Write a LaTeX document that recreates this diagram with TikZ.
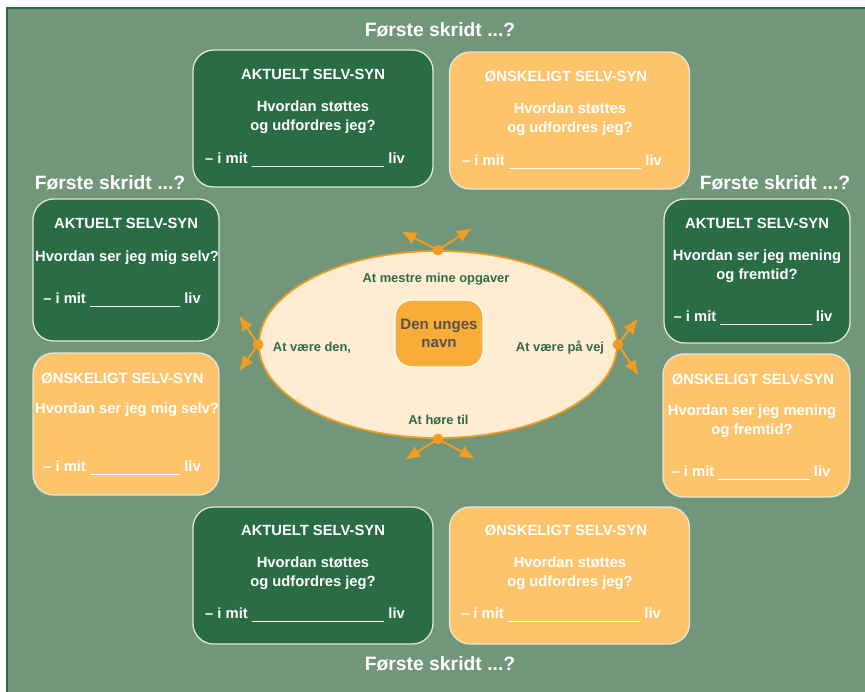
\documentclass[tikz,border=0pt]{standalone}
\usepackage{fontspec}
\setmainfont{Liberation Sans}
\usetikzlibrary{arrows.meta,shapes.geometric}
\definecolor{bggreen}{HTML}{71967A}
\definecolor{framegreen}{HTML}{2A6B45}
\definecolor{darkbox}{HTML}{296C46}
\definecolor{orangebox}{HTML}{FEC46C}
\definecolor{boxline}{HTML}{E4E6DA}
\definecolor{ringfill}{HTML}{FFEDD3}
\definecolor{ringline}{HTML}{F39C1F}
\definecolor{kernefill}{HTML}{F8AD3B}
\definecolor{labelgreen}{HTML}{2F6B44}
\definecolor{kernetext}{HTML}{58534E}

\begin{document}
\begin{tikzpicture}[x=0.03cm,y=-0.03cm,
  aktuel/.style={draw=boxline,line width=1.1pt,fill=darkbox,rounded corners=0.62cm,inner sep=0pt},
  oensket/.style={draw=boxline,line width=1.1pt,fill=orangebox,rounded corners=0.62cm,inner sep=0pt},
  widebox/.style={minimum width=7.2cm,minimum height=4.11cm},
  sidebox/.style={minimum width=5.58cm,minimum height=4.26cm},
  boxtext/.style={text=white,font=\fontsize{12.6}{16.5}\selectfont\bfseries,align=center,inner sep=0pt},
  skridt/.style={text=white,font=\fontsize{16.5}{20}\selectfont\bfseries,inner sep=0pt},
  ringlabel/.style={text=labelgreen,font=\fontsize{11}{13}\selectfont\bfseries,inner sep=0pt},
  pil/.style={-{Latex[length=13pt,width=11pt,inset=2pt]},draw=ringline,fill=ringline,line width=1.7pt}]
  \useasboundingbox (0,0) rectangle (865,691);
  \draw[fill=bggreen,draw=framegreen,line width=1.7pt] (7,8) rectangle (885,705);

  \node[skridt] (skT) at (440,30) {Første skridt ...?};
  \node[skridt] (skL) at (110,183) {Første skridt ...?};
  \node[skridt] (skR) at (775,183) {Første skridt ...?};
  \node[skridt] (skB) at (440,664) {Første skridt ...?};

  \node[aktuel,widebox] (topA) at (313,118.5) {};
  \node[oensket,widebox] (topO) at (569.5,120.5) {};
  \node[aktuel,sidebox] (venA) at (126,270) {};
  \node[oensket,sidebox] (venO) at (126,424) {};
  \node[aktuel,sidebox,minimum height=4.32cm] (hoeA) at (757,271) {};
  \node[oensket,sidebox,minimum width=5.61cm,minimum height=4.29cm] (hoeO) at (756.5,425.5) {};
  \node[aktuel,widebox] (bundA) at (313,575.5) {};
  \node[oensket,widebox] (bundO) at (569.5,575.5) {};

  \node[boxtext] (topAt) at (313,74) {AKTUELT SELV-SYN};
  \node[boxtext] (topAq) at (313,117) {Hvordan støttes\\og udfordres jeg?};
  \node[boxtext] (topAl) at (305,160) {– i mit \rule[-2.5pt]{113pt}{0.8pt} liv};
  \node[boxtext] (topOt) at (566,76) {ØNSKELIGT SELV-SYN};
  \node[boxtext] (topOq) at (570,119) {Hvordan støttes\\og udfordres jeg?};
  \node[boxtext] (topOl) at (562,162) {– i mit \rule[-2.5pt]{113pt}{0.8pt} liv};

  \node[boxtext] (venAt) at (126,223) {AKTUELT SELV-SYN};
  \node[boxtext] (venAq) at (127,258) {Hvordan ser jeg mig selv?};
  \node[boxtext] (venAl) at (122,300) {– i mit \rule[-2.5pt]{77pt}{0.8pt} liv};
  \node[boxtext] (venOt) at (122.5,378) {ØNSKELIGT SELV-SYN};
  \node[boxtext] (venOq) at (127,410) {Hvordan ser jeg mig selv?};
  \node[boxtext] (venOl) at (122,468) {– i mit \rule[-2.5pt]{77pt}{0.8pt} liv};

  \node[boxtext] (hoeAt) at (757,223) {AKTUELT SELV-SYN};
  \node[boxtext] (hoeAq) at (757,266) {Hvordan ser jeg mening\\og fremtid?};
  \node[boxtext] (hoeAl) at (753,318) {– i mit \rule[-2.5pt]{78pt}{0.8pt} liv};
  \node[boxtext] (hoeOt) at (753,379) {ØNSKELIGT SELV-SYN};
  \node[boxtext] (hoeOq) at (752,421) {Hvordan ser jeg mening\\og fremtid?};
  \node[boxtext] (hoeOl) at (751,473) {– i mit \rule[-2.5pt]{78pt}{0.8pt} liv};

  \node[boxtext] (bundAt) at (313,530) {AKTUELT SELV-SYN};
  \node[boxtext] (bundAq) at (313,573.5) {Hvordan støttes\\og udfordres jeg?};
  \node[boxtext] (bundAl) at (305,615) {– i mit \rule[-2.5pt]{113pt}{0.8pt} liv};
  \node[boxtext] (bundOt) at (566,530) {ØNSKELIGT SELV-SYN};
  \node[boxtext] (bundOq) at (570,573.5) {Hvordan støttes\\og udfordres jeg?};
  \node[boxtext] (bundOl) at (561,615) {– i mit \rule[-2.5pt]{113pt}{0.8pt} liv};

  \node[ellipse,draw=ringline,line width=1.5pt,fill=ringfill,minimum width=10.74cm,minimum height=5.61cm,inner sep=0pt] (ring) at (438,344.5) {};
  \node[draw=white,line width=1.1pt,fill=kernefill,rounded corners=0.5cm,minimum width=2.64cm,minimum height=2.01cm,text=kernetext,font=\fontsize{12.9}{15.5}\selectfont\bfseries,align=center] (kerne) at (439,333.5) {Den unges\\navn};

  \node[ringlabel] (mestre) at (436,279) {At mestre mine opgaver};
  \node[ringlabel] (vaereden) at (312,348) {At være den,};
  \node[ringlabel] (paavej) at (560,348) {At være på vej};
  \node[ringlabel] (hoere) at (438.5,420) {At høre til};

  \foreach \a/\dxa/\dya/\dxb/\dyb in {north/-37/-19/34/-22,west/-19/-29/-19/27,east/20/-26/21/31,south/-33/21/37/20}{
    \draw[pil] (ring.\a) -- ++(\dxa,\dya);
    \draw[pil] (ring.\a) -- ++(\dxb,\dyb);
    \fill[ringline] (ring.\a) circle[radius=0.16cm];
  }
\end{tikzpicture}
\end{document}
